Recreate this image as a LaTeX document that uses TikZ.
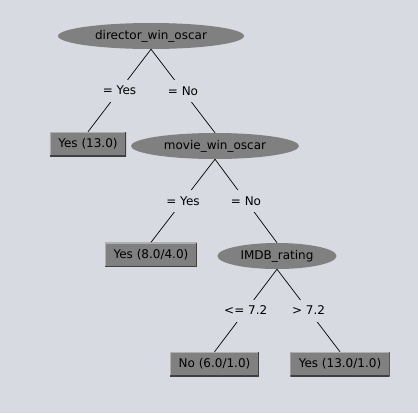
\documentclass[tikz,border=0pt]{standalone}
\usepackage{fontspec}
\setmainfont{DejaVu Sans}
\usetikzlibrary{shapes.geometric}
\definecolor{wekabg}{RGB}{216,218,226}
\definecolor{nodegray}{RGB}{128,128,128}
\definecolor{boxlight}{RGB}{176,176,176}
\definecolor{boxdark}{RGB}{64,64,64}
\tikzset{
  split/.style={ellipse, fill=nodegray, inner sep=0pt, minimum height=26pt},
  leaf/.style={rectangle, fill=nodegray, inner xsep=8.5pt, inner ysep=0pt, minimum height=24pt,
    path picture={
      \draw[boxlight, line width=2pt] (path picture bounding box.south west) -- (path picture bounding box.north west) -- (path picture bounding box.north east);
      \draw[boxdark, line width=2pt] (path picture bounding box.north east) -- (path picture bounding box.south east) -- (path picture bounding box.south west);
    }},
  cond/.style={fill=wekabg, inner xsep=1pt, inner ysep=0pt, minimum height=22pt},
  branch/.style={black, line width=0.7pt},
}
\begin{document}
\begin{tikzpicture}[x=1pt,y=-1pt,font=\fontsize{12}{14}\selectfont]
    \fill[wekabg] (0,0) rectangle (418,413);
    \useasboundingbox (0,0) rectangle (418,413);
    %
    \node[split, minimum width=186pt] (director) at (151,36) {director\_win\_oscar};
    \node[split, minimum width=168pt] (movie) at (215,146) {movie\_win\_oscar};
    \node[split, minimum width=119pt] (imdb) at (277,256) {IMDB\_rating};
    %
    \node[leaf] (yes13) at (88,144) {Yes (13.0)};
    \node[leaf] (yes8) at (151,254.5) {Yes (8.0/4.0)};
    \node[leaf] (no6) at (214.5,364) {No (6.0/1.0)};
    \node[leaf] (yes13b) at (340,364) {Yes (13.0/1.0)};
    %
    \draw[branch] (director.south) -- node[cond] {= Yes} (yes13.north);
    \draw[branch] (director.south) -- node[cond] {= No} (movie.north);
    \draw[branch] (movie.south) -- node[cond] {= Yes} (yes8.north);
    \draw[branch] (movie.south) -- node[cond] {= No} (imdb.north);
    \draw[branch] (imdb.south) -- node[cond] {<= 7.2} (no6.north);
    \draw[branch] (imdb.south) -- node[cond] {> 7.2} (yes13b.north);
\end{tikzpicture}
\end{document}
